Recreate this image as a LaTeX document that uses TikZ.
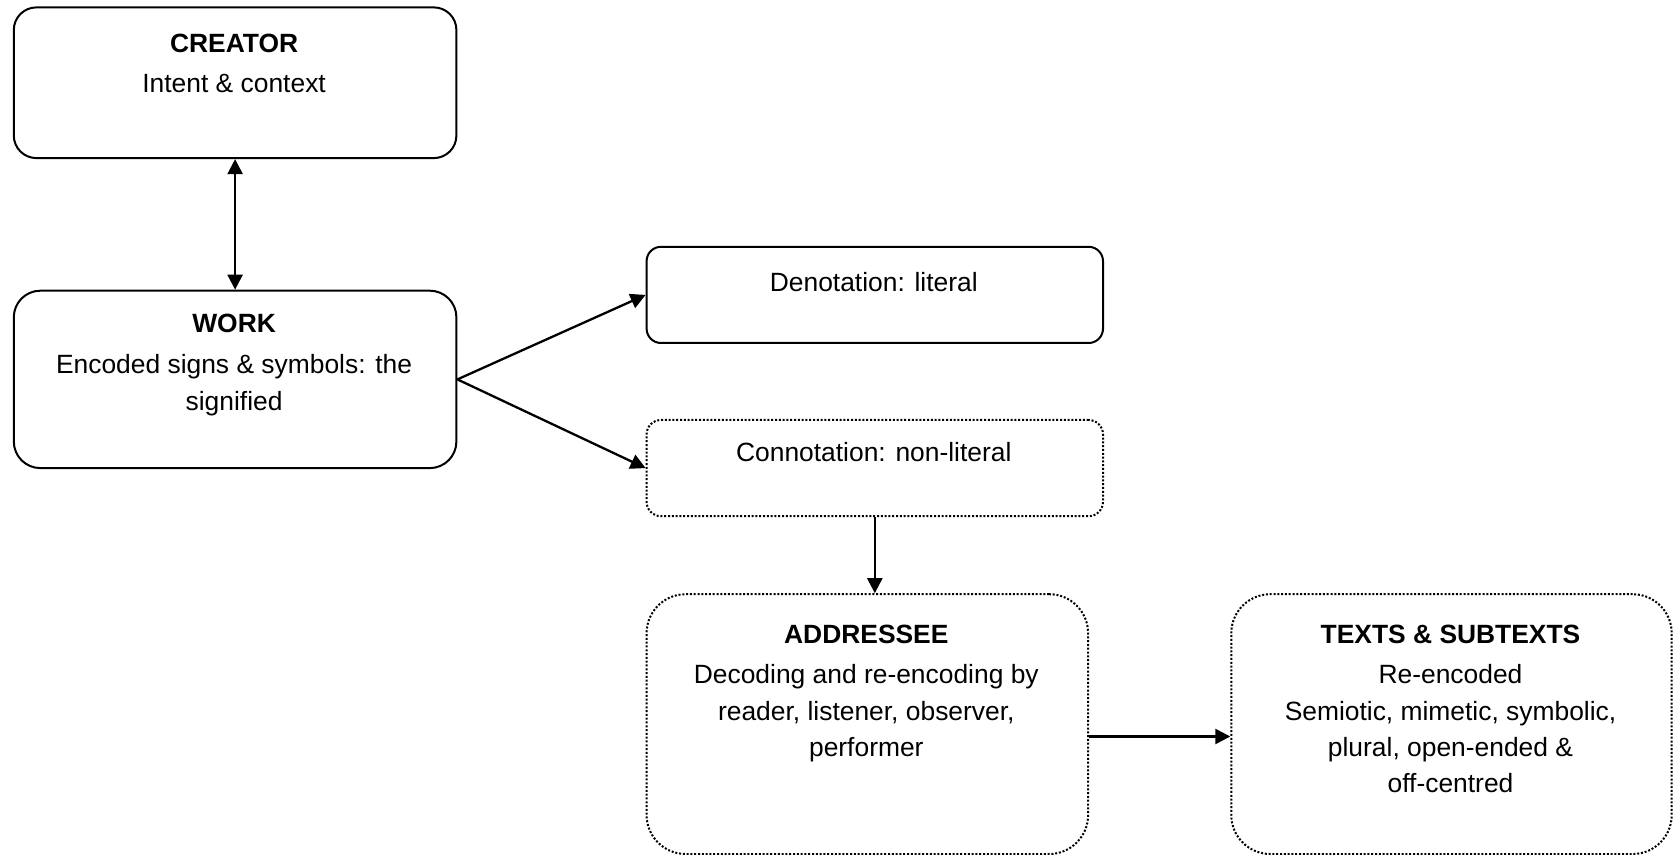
\documentclass[tikz,border=0pt]{standalone}
\usepackage{fontspec}
\setmainfont{Liberation Sans}
\usetikzlibrary{arrows.meta}
\begin{document}
\begin{tikzpicture}[x=0.5pt,y=-0.5pt,
  box/.style={draw, line width=1pt, rounded corners=#1, inner sep=0pt, anchor=north west},
  dotbox/.style={box=#1, line width=1pt, dash pattern=on 1pt off 0.9pt},
  txt/.style={align=center, inner sep=0pt, anchor=north, font=\fontsize{13.2}{18.2}\selectfont},
  tip/.style={},
  arr/.style={line width=1.15pt, -{Triangle[length=7.5pt,width=7.5pt]}},
  darr/.style={line width=1.15pt, {Triangle[length=7.5pt,width=7.5pt]}-{Triangle[length=7.5pt,width=7.5pt]}}
]
\useasboundingbox (0,0) rectangle (1676,855);
\node[box=11.3pt, minimum width=221.3pt, minimum height=75.35pt] (creator) at (12.8,6.4) {};
\node[box=13.3pt, minimum width=221.3pt, minimum height=88.7pt] (work) at (12.8,289.7) {};
\node[box=7.2pt, minimum width=228.2pt, minimum height=48.1pt] (denot) at (645.6,245.8) {};
\node[dotbox=7.2pt, minimum width=228.2pt, minimum height=48.1pt] (conn) at (645.6,419) {};
\node[dotbox=19.5pt, minimum width=220.75pt, minimum height=129.9pt] (addr) at (645.6,593.2) {};
\node[dotbox=19.5pt, minimum width=220.2pt, minimum height=129.9pt] (texts) at (1230.3,593.2) {};

\node[txt] (creatort) at (234.1,33.3) {\textbf{CREATOR}\\[2pt]Intent \& context};
\node[txt] (workt) at (234.1,313.3) {\textbf{WORK}\\[2.5pt]Encoded signs \& symbols: the\\[0.5pt]signified};
\node[txt] (denott) at (873.8,271.5) {Denotation: literal};
\node[txt] (connt) at (873.8,441.5) {Connotation: non-literal};
\node[txt] (addrt) at (866.3,624.5) {\textbf{ADDRESSEE}\\[2pt]Decoding and re-encoding by\\reader, listener, observer,\\performer};
\node[txt] (textst) at (1450.5,624.5) {\textbf{TEXTS \& SUBTEXTS}\\[2pt]Re-encoded\\Semiotic, mimetic, symbolic,\\plural, open-ended \&\\off-centred};

\coordinate (ay) at (0,736.5);
\draw[darr] (creator.south) -- (work.north);
\draw[arr] (work.east) -- (denot.west);
\draw[arr] (work.east) -- (conn.west);
\draw[arr] (conn.south) -- (conn.south |- addr.north);
\draw[arr] (addr.east |- ay) -- (texts.west |- ay);
\end{tikzpicture}
\end{document}
